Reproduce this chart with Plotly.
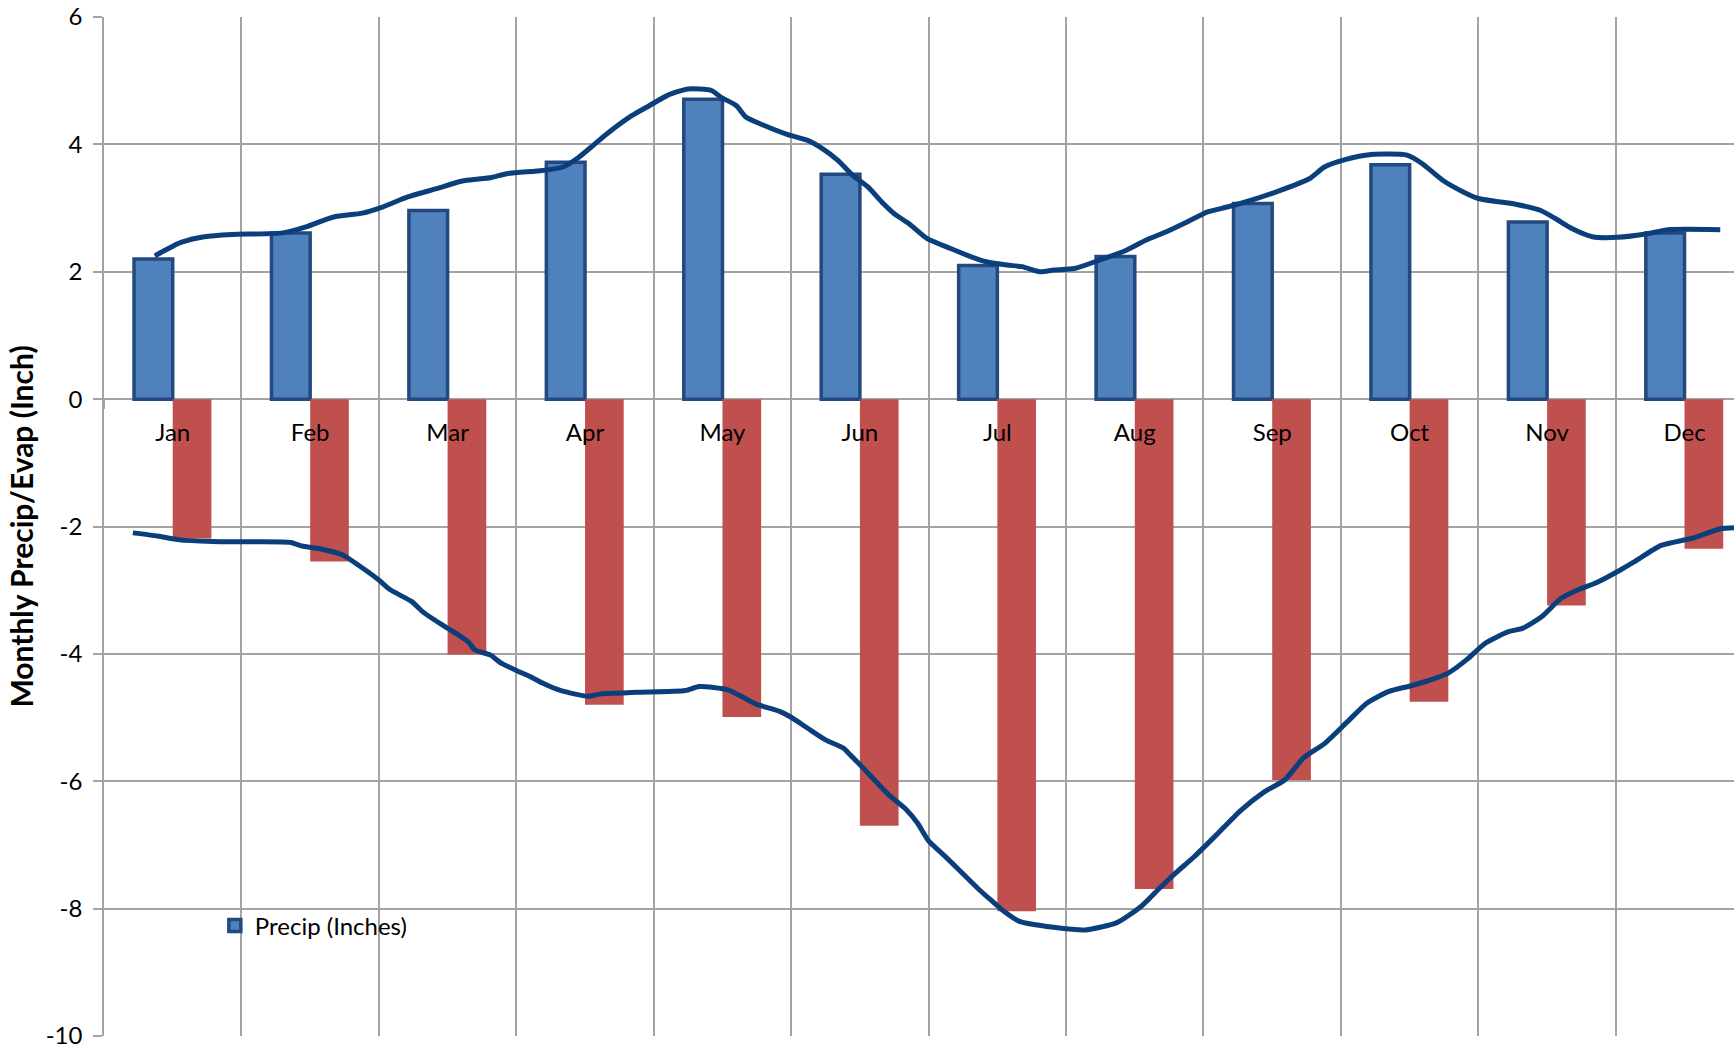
import plotly.graph_objects as go

# Monthly totals (inches)
months = ["Jan", "Feb", "Mar", "Apr", "May", "Jun",
          "Jul", "Aug", "Sep", "Oct", "Nov", "Dec"]
precip = [2.2, 2.61, 2.96, 3.72, 4.71, 3.53, 2.1, 2.24, 3.07, 3.68, 2.78, 2.61]
evap = [-2.19, -2.55, -4.01, -4.8, -4.99, -6.7, -8.04, -7.69, -5.98, -4.75, -3.24, -2.35]

# Value-axis ticks
y_ticks = [6, 4, 2, 0, -2, -4, -6, -8, -10]

# Smoothed daily precipitation curve (x in month units, 0 = Jan)
precip_curve_x = [-0.13, 0.06, 0.23, 0.43, 0.80, 0.97, 1.17, 1.38, 1.53, 1.71, 1.92, 2.10,
                  2.32, 2.43, 2.69, 2.84, 2.95, 3.06, 3.16, 3.34, 3.47, 3.60, 3.75, 3.92,
                  3.99, 4.10, 4.17, 4.30, 4.47, 4.62, 4.73, 4.84, 4.95, 5.06, 5.17, 5.25,
                  5.36, 5.49, 5.66, 5.81, 5.92, 6.07, 6.18, 6.31, 6.41, 6.56, 6.74, 6.93,
                  7.08, 7.23, 7.38, 7.53, 7.68, 7.83, 8.05, 8.27, 8.38, 8.53, 8.72, 8.98,
                  9.09, 9.24, 9.39, 9.50, 9.77, 9.95, 10.06, 10.18, 10.33, 10.51, 10.74,
                  10.88, 11.26]
precip_curve_y = [2.25, 2.46, 2.55, 2.585, 2.61, 2.705, 2.86, 2.92, 3.02, 3.175, 3.305, 3.42,
                  3.48, 3.54, 3.59, 3.645, 3.79, 3.985, 4.167, 4.45, 4.61, 4.77, 4.87, 4.846,
                  4.74, 4.61, 4.43, 4.30, 4.157, 4.063, 3.93, 3.75, 3.51, 3.33, 3.07, 2.91,
                  2.75, 2.52, 2.365, 2.235, 2.157, 2.105, 2.08, 2.00, 2.026, 2.05, 2.18, 2.33,
                  2.496, 2.627, 2.78, 2.94, 3.02, 3.112, 3.27, 3.46, 3.645, 3.76, 3.84, 3.83,
                  3.70, 3.436, 3.253, 3.15, 3.06, 2.966, 2.836, 2.679, 2.55, 2.54, 2.60,
                  2.66, 2.66]

# Smoothed daily evaporation curve (negative = loss)
evap_curve_x = [-0.29, -0.11, 0.05, 0.29, 0.51, 0.86, 0.94, 1.07, 1.23, 1.37, 1.50, 1.58,
                1.74, 1.82, 1.90, 2.04, 2.15, 2.20, 2.31, 2.39, 2.50, 2.60, 2.69, 2.82,
                3.02, 3.12, 3.38, 3.73, 3.83, 4.04, 4.14, 4.24, 4.42, 4.50, 4.62, 4.75,
                4.88, 4.93, 5.06, 5.21, 5.34, 5.42, 5.50, 5.62, 5.72, 5.87, 5.95, 6.05,
                6.16, 6.41, 6.64, 6.87, 7.05, 7.18, 7.30, 7.43, 7.60, 7.77, 7.94, 8.09,
                8.23, 8.38, 8.55, 8.69, 8.85, 9.01, 9.17, 9.28, 9.42, 9.55, 9.72, 9.82,
                9.96, 10.10, 10.23, 10.37, 10.53, 10.64, 10.83, 11.07, 11.26, 11.36]
evap_curve_y = [-2.10, -2.15, -2.21, -2.234, -2.24, -2.25, -2.307, -2.35, -2.44, -2.635,
                -2.84, -2.99, -3.18, -3.34, -3.46, -3.65, -3.81, -3.94, -4.016, -4.146,
                -4.26, -4.354, -4.458, -4.573, -4.667, -4.625, -4.604, -4.576, -4.513,
                -4.565, -4.67, -4.785, -4.906, -4.995, -5.168, -5.35, -5.48, -5.586,
                -5.874, -6.215, -6.45, -6.66, -6.937, -7.18, -7.39, -7.707, -7.86, -8.047,
                -8.20, -8.293, -8.335, -8.22, -7.958, -7.68, -7.435, -7.19, -6.83, -6.46,
                -6.17, -5.98, -5.63, -5.41, -5.06, -4.77, -4.589, -4.50, -4.396, -4.302,
                -4.083, -3.833, -3.651, -3.60, -3.417, -3.13, -2.99, -2.87, -2.6875,
                -2.547, -2.297, -2.177, -2.036, -2.02]

FONT = "Lato"
GRID = "#A3A3A3"
X_RANGE = [-0.5, 11.36]

fig = go.Figure()

fig.add_trace(go.Bar(
    x=months, y=precip, name="Precip (Inches)",
    marker=dict(color="#4F81BD", line=dict(color="#23497F", width=3.5)),
))
fig.add_trace(go.Bar(
    x=months, y=evap, name="Evap (Inches)", showlegend=False,
    marker=dict(color="#C0504D", line=dict(width=0)),
))
fig.add_trace(go.Scatter(
    x=precip_curve_x, y=precip_curve_y, mode="lines", xaxis="x2",
    line=dict(color="#0B3F7C", width=5, shape="spline", smoothing=0.6),
    showlegend=False, hoverinfo="skip",
))
fig.add_trace(go.Scatter(
    x=evap_curve_x, y=evap_curve_y, mode="lines", xaxis="x2",
    line=dict(color="#0B3F7C", width=5, shape="spline", smoothing=0.6),
    showlegend=False, hoverinfo="skip",
))

fig.update_layout(
    width=1734, height=1049,
    margin=dict(l=104, r=0, t=17, b=13),
    paper_bgcolor="white", plot_bgcolor="white",
    font=dict(family=FONT, size=24, color="black"),
    barmode="group", bargap=0.437, bargroupgap=0,
    xaxis=dict(
        type="category", categoryorder="array", categoryarray=months,
        range=X_RANGE, tickson="boundaries",
        showgrid=True, gridcolor=GRID, gridwidth=1.5,
        anchor="free", position=0.625,
        showline=False, zeroline=False,
        ticks="outside", ticklen=9, tickcolor=GRID, tickwidth=1.5,
        ticklabelstandoff=17,
        tickfont=dict(family=FONT, size=24),
    ),
    xaxis2=dict(
        type="linear", overlaying="x", range=X_RANGE, visible=False,
    ),
    yaxis=dict(
        range=[-10, 6],
        tickvals=y_ticks, ticktext=[str(v) for v in y_ticks],
        showgrid=True, gridcolor=GRID, gridwidth=2,
        zeroline=False, showline=True, linecolor=GRID, linewidth=1.5,
        ticks="outside", ticklen=9, tickcolor=GRID, tickwidth=1.5,
        ticklabelstandoff=6, ticklabeloverflow="allow",
        tickfont=dict(family=FONT, size=24),
        title=dict(text="Monthly Precip/Evap (Inch)",
                   font=dict(family=FONT, size=30, color="black", weight="bold"),
                   standoff=3),
    ),
    legend=dict(
        x=0.068, y=0.108, xanchor="left", yanchor="middle",
        bgcolor="rgba(0,0,0,0)", font=dict(family=FONT, size=24),
        itemwidth=30,
    ),
)

fig.write_html("out.html")
